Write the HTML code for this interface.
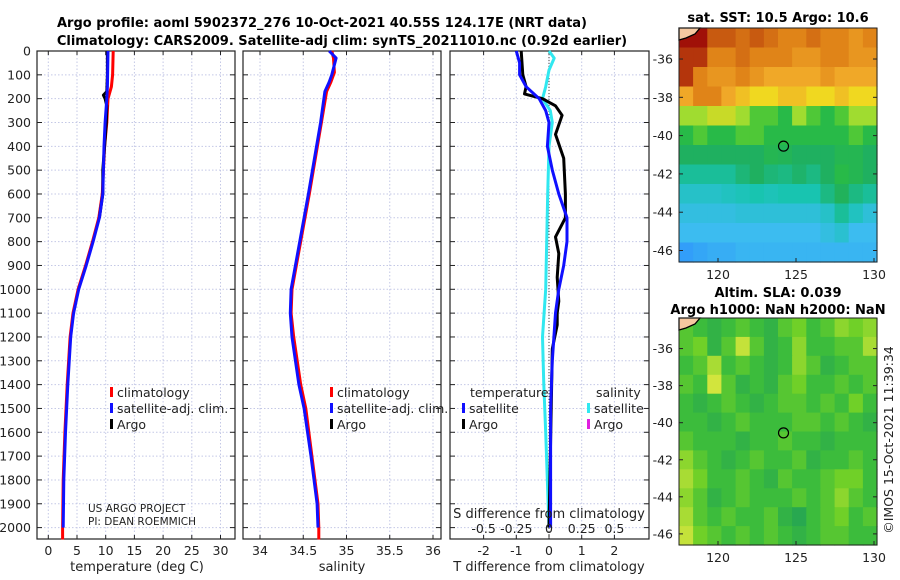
<!DOCTYPE html>
<html><head><meta charset="utf-8"><style>
body{margin:0;background:#fff;}
svg{display:block;font-family:"DejaVu Sans","Liberation Sans",sans-serif;}
.t{font-size:12.5px;fill:#222;}
.b{font-weight:bold;font-size:13px;fill:#000;}
</style></head><body>
<svg id="c" width="900" height="580" viewBox="0 0 900 580"></svg>
<script>
// ---- data ----
const depthTicks=[0,100,200,300,400,500,600,700,800,900,1000,1100,1200,1300,1400,1500,1600,1700,1800,1900,2000];
const tTicks=[0,5,10,15,20,25,30];
const sTicks=[34,34.5,35,35.5,36];
const dTTicks=[-2,-1,0,1,2];
const dSTicks=[-0.5,-0.25,0,0.25,0.5];
const tClimDepth=[0,100,150,200,300,400,500,600,700,800,900,1000,1100,1200,1400,1600,1800,2000,2050];
const tClimVal=[11.3,11.2,11.0,10.4,10.2,9.8,9.6,9.4,8.8,7.7,6.5,5.2,4.3,3.8,3.3,2.9,2.6,2.5,2.5];
const tSatDepth=[0,150,200,300,400,500,600,700,800,900,1000,1100,1200,1400,1600,1800,2000];
const tSatVal=[10.4,10.3,10.2,9.9,9.7,9.6,9.5,8.9,7.8,6.6,5.3,4.4,3.9,3.4,3.0,2.7,2.6];
const tArgoDepth=[0,100,170,185,200,230,300,400,500,600,700];
const tArgoVal=[10.3,10.3,10.2,9.6,9.9,10.2,10.1,9.8,9.5,9.5,8.9];
const sClimDepth=[0,30,90,130,170,300,600,1000,1100,1200,1400,1500,1700,1900,2000,2050];
const sClimVal=[34.83,34.85,34.86,34.82,34.77,34.71,34.57,34.37,34.36,34.39,34.47,34.53,34.60,34.67,34.68,34.68];
const sSatDepth=[0,30,100,130,170,300,600,1000,1100,1200,1400,1500,1700,1900,2000];
const sSatVal=[34.80,34.88,34.83,34.80,34.75,34.70,34.56,34.36,34.35,34.37,34.45,34.51,34.59,34.66,34.67];
const dTSatDepth=[0,50,100,150,200,250,300,400,500,600,700,800,900,1000,1100,1300,1500,2000];
const dTSatVal=[-1.0,-0.9,-0.9,-0.7,-0.3,-0.1,0.0,-0.05,0.1,0.3,0.55,0.55,0.45,0.3,0.2,0.1,0.05,0.05];
const dTArgoDepth=[0,100,150,180,200,230,270,350,450,600,700,780,850,950,1050,1100,1150,1250,2000];
const dTArgoVal=[-0.85,-0.8,-0.7,-0.75,-0.2,0.2,0.4,0.2,0.45,0.5,0.5,0.2,0.3,0.25,0.3,0.25,0.25,0.1,0.0];
const dSSatDepth=[0,30,80,150,200,250,300,400,600,1000,1200,1400,1600,2000];
const dSSatVal=[0,0.04,0,-0.025,-0.05,0.01,0.025,0,-0.01,-0.025,-0.05,-0.04,-0.025,0];
const sstGrid=[
[17,17,16,16,15.5,16,15.5,15,15,15.5,15,15,14.5,15],
[16.5,16.5,15,15,15.5,15,15,15,14.5,14.5,15,15,14.5,14.5],
[16.5,15,14.5,14.5,15,14.5,14,14,14,14,14.5,14,14,14],
[14,15,15,14,13.5,13,13,13.5,13.5,13,13,13.5,13,13],
[12,12,12.5,12.5,12,11.5,11.5,11,12,11.5,11,11.5,12,12],
[11,11.5,11,11,11.5,11.5,11,11,11,11,11,11,11.5,11],
[10.5,10.5,10.5,10.5,10.5,10.5,10.8,10.7,10.5,10.5,10.5,10.8,10.8,10.5],
[10,10,10,10,10.3,10.5,10.3,10.2,10.4,10.2,10.5,11,10.8,10.5],
[9.5,9.5,9.5,9.6,9.7,9.8,9.7,9.8,9.8,9.8,10.2,10.6,10.2,10],
[9.2,9.2,9.2,9.2,9.3,9.3,9.3,9.3,9.3,9.3,9.5,10,9.6,9.3],
[9,9,9,9,9,9,9,9,9,9,9.2,9.4,9,9],
[8.6,8.7,8.8,8.8,8.9,8.9,8.9,8.9,8.9,8.9,8.9,8.9,8.9,8.9]];
const slaGrid=[
[0.5,0.4,0.3,0.4,0.5,0.4,0.3,0.5,0.6,0.4,0.5,0.7,0.6,0.7],
[0.5,0.6,0.3,0.5,0.9,0.5,0.3,0.4,0.7,0.4,0.4,0.5,0.5,0.8],
[0.4,0.5,0.8,0.4,0.5,0.4,0.3,0.4,0.7,0.5,0.3,0.4,0.5,0.5],
[0.5,0.4,0.95,0.5,0.3,0.4,0.3,0.5,0.6,0.4,0.4,0.5,0.4,0.5],
[0.4,0.3,0.4,0.5,0.4,0.3,0.4,0.5,0.5,0.4,0.5,0.4,0.6,0.4],
[0.4,0.4,0.3,0.4,0.5,0.4,0.4,0.4,0.5,0.5,0.4,0.5,0.4,0.3],
[0.5,0.4,0.4,0.4,0.3,0.4,0.4,0.5,0.4,0.4,0.3,0.4,0.4,0.4],
[0.7,0.5,0.4,0.3,0.4,0.5,0.4,0.4,0.5,0.3,0.4,0.4,0.5,0.4],
[0.8,0.6,0.4,0.4,0.5,0.4,0.3,0.5,0.4,0.4,0.5,0.6,0.6,0.4],
[0.7,0.5,0.3,0.4,0.5,0.4,0.4,0.4,0.5,0.4,0.5,0.7,0.5,0.4],
[0.8,0.5,0.4,0.5,0.4,0.4,0.5,0.3,0.2,0.4,0.5,0.6,0.4,0.5],
[0.9,0.6,0.5,0.4,0.5,0.4,0.5,0.4,0.3,0.4,0.5,0.5,0.4,0.4]];
const lonTicks=[120,125,130];
const latTicks=[-36,-38,-40,-42,-44,-46];
const floatLon=124.2, floatLat=-40.55;

// ---- helpers ----
const svg=document.getElementById('c');
const NS='http://www.w3.org/2000/svg';
function mk(tag,attrs,parent){const e=document.createElementNS(NS,tag);for(const k in attrs)e.setAttribute(k,attrs[k]);(parent||svg).appendChild(e);return e;}
function txt(x,y,s,cls,anchor,parent){const e=mk('text',{x:x,y:y,class:cls||'t','text-anchor':anchor||'middle'},parent);e.textContent=s;return e;}
const Y0=51,YPX=23.83/100; const yD=d=>Y0+d*YPX;
const PB=539;
const panels=[
 {x0:37,x1:235,sc:v=>48.3+v*5.74,ticks:tTicks,name:'temperature-panel'},
 {x0:243,x1:441,sc:v=>260+(v-34)*86.5,ticks:sTicks,name:'salinity-panel'},
 {x0:450,x1:649,sc:v=>549+v*32.7,ticks:dTTicks,name:'difference-panel'}];
const sS=v=>549+v*4*32.7;

panels.forEach((p,i)=>{
 const g=mk('g',{});
 
 
 p.ticks.forEach(t=>{const x=p.sc(t);mk('line',{x1:x,x2:x,y1:Y0,y2:PB,stroke:'#c4c8e6','stroke-dasharray':'1.5,2','stroke-width':1},g);
  mk('line',{x1:x,x2:x,y1:PB,y2:PB-4,stroke:'#222'},g);mk('line',{x1:x,x2:x,y1:Y0,y2:Y0+4,stroke:'#222'},g);
  txt(x,555,String(t),'t','middle',g);});
 depthTicks.forEach(d=>{const y=yD(d);mk('line',{x1:p.x0,x2:p.x1,y1:y,y2:y,stroke:'#c4c8e6','stroke-dasharray':'1.5,2','stroke-width':1},g);
  mk('line',{x1:p.x0,x2:p.x0+5,y1:y,y2:y,stroke:'#222'},g);mk('line',{x1:p.x1-5,x2:p.x1,y1:y,y2:y,stroke:'#222'},g);
  if(i==0)txt(31,y+4.5,String(d),'t','end',g);});
 mk('rect',{x:p.x0,y:Y0,width:p.x1-p.x0,height:PB-Y0,fill:'none',stroke:'#222','stroke-width':1.2},g);
});
function line(depths,vals,sc,color,w,name){
 const pts=depths.map((d,k)=>sc(vals[k]).toFixed(1)+','+yD(d).toFixed(1)).join(' ');
 const e=mk('polyline',{points:pts,fill:'none',stroke:color,'stroke-width':w,'stroke-linejoin':'round'});
 
 
}
line(tClimDepth,tClimVal,panels[0].sc,'#ff0000',3,'temp-climatology-line');
line(tArgoDepth,tArgoVal,panels[0].sc,'#000',3,'temp-argo-line');
line(tSatDepth,tSatVal,panels[0].sc,'#1010ff',3,'temp-satellite-line');
line(sClimDepth,sClimVal,panels[1].sc,'#ff0000',3,'sal-climatology-line');
line(sSatDepth,sSatVal,panels[1].sc,'#1010ff',3,'sal-satellite-line');
mk('line',{x1:549,x2:549,y1:Y0,y2:PB,stroke:'#444','stroke-dasharray':'1,2'});
line(dSSatDepth,dSSatVal,sS,'#30e8f0',3,'sal-diff-satellite-line');
line(dTArgoDepth,dTArgoVal,panels[2].sc,'#000',3,'temp-diff-argo-line');
line(dTSatDepth,dTSatVal,panels[2].sc,'#1010ff',3,'temp-diff-satellite-line');
dSTicks.forEach(t=>{txt(sS(t),533,String(t),'t','middle');});

// legends
function leg(x,y,color,label,name){const g=mk('g',{});
 mk('rect',{x:x,y:y-10,width:3,height:10,fill:color},g);txt(x+7,y,label,'t','start',g);}
leg(110,397,'#ff0000','climatology','legend-climatology');
leg(110,413,'#1010ff','satellite-adj. clim.','legend-satellite');
leg(110,429,'#000','Argo','legend-argo');
leg(330,397,'#ff0000','climatology','legend-sal-climatology');
leg(330,413,'#1010ff','satellite-adj. clim.','legend-sal-satellite');
leg(330,429,'#000','Argo','legend-sal-argo');
txt(470,397,'temperature','t','start');
txt(596,397,'salinity','t','start');
leg(462,413,'#1010ff','satellite','legend-diff-temp-satellite');
leg(462,429,'#000','Argo','legend-diff-temp-argo');
leg(587,413,'#30e8f0','satellite','legend-diff-sal-satellite');
leg(587,429,'#e020e0','Argo','legend-diff-sal-argo');
txt(88,512,'US ARGO PROJECT','t','start').setAttribute('style','font-size:10.5px');
txt(88,525,'PI: DEAN ROEMMICH','t','start').setAttribute('style','font-size:10.5px');
txt(549,518,'S difference from climatology','t','middle').setAttribute('style','font-size:13px');
txt(137,571,'temperature (deg C)','t','middle').setAttribute('style','font-size:13px');
txt(342,571,'salinity','t','middle').setAttribute('style','font-size:13px');
txt(549,571,'T difference from climatology','t','middle').setAttribute('style','font-size:13px');
txt(322,27,'Argo profile: aoml 5902372_276 10-Oct-2021 40.55S 124.17E (NRT data)','b','middle');
txt(342,45,'Climatology: CARS2009. Satellite-adj clim: synTS_20211010.nc (0.92d earlier)','b','middle');

// colormaps
function interp(stops,v){if(v<=stops[0][0])return stops[0][1];for(let k=1;k<stops.length;k++){if(v<=stops[k][0]){const a=stops[k-1],b=stops[k],f=(v-a[0])/(b[0]-a[0]);
 const c1=a[1],c2=b[1];const ch=j=>Math.round(parseInt(c1.substr(1+2*j,2),16)*(1-f)+parseInt(c2.substr(1+2*j,2),16)*f);return `rgb(${ch(0)},${ch(1)},${ch(2)})`;}}return stops[stops.length-1][1];}
const sstStops=[[8.3,'#2a88ff'],[9,'#3cbcf0'],[9.8,'#18c4b0'],[10.5,'#1fb060'],[11.3,'#2ec03a'],[12,'#a0dc30'],[13,'#f0d820'],[14,'#f0a828'],[15,'#e08418'],[16,'#c85a10'],[17,'#a01008']];
const slaStops=[[0.2,'#28a850'],[0.4,'#3cbc3c'],[0.6,'#70d028'],[1,'#e0e840']];
function map(box,grid,stops,name,latTop,latBot){
 const g=mk('g',{});
 const lx=lon=>679+(lon-117.5)*15.6;
 const ly=lat=>box.y0+(latTop-lat)*(box.y1-box.y0)/(latTop-latBot);
 const rows=grid.length,cols=grid[0].length,cw=(877-679)/cols,rh=(box.y1-box.y0)/rows;
 grid.forEach((r,ri)=>r.forEach((v,ci)=>{mk('rect',{x:(679+ci*cw).toFixed(1),y:(box.y0+ri*rh).toFixed(1),width:(cw+0.6).toFixed(1),height:(rh+0.6).toFixed(1),fill:interp(stops,v)},g);}));
 mk('path',{d:`M679,${box.y0} L700,${box.y0} L695,${box.y0+6} L686,${box.y0+10} L679,${box.y0+12} Z`,fill:'#f5c8a0',stroke:'#000','stroke-width':1.3},g);
 mk('circle',{cx:lx(floatLon),cy:ly(floatLat),r:5,fill:'none',stroke:'#000','stroke-width':1.2},g);
 mk('rect',{x:679,y:box.y0,width:198,height:box.y1-box.y0,fill:'none',stroke:'#222'},g);
 lonTicks.forEach(l=>{const x=lx(l);mk('line',{x1:x,x2:x,y1:box.y1,y2:box.y1-4,stroke:'#222'},g);txt(x,box.y1+17,String(l),'t','middle',g);});
 latTicks.forEach(l=>{const y=ly(l);mk('line',{x1:679,x2:683,y1:y,y2:y,stroke:'#222'},g);mk('line',{x1:873,x2:877,y1:y,y2:y,stroke:'#222'},g);txt(673,y+4.5,String(l),'t','end',g);});
}
map({y0:28,y1:262},sstGrid,sstStops,'sst-map',-34.38,-46.6);
map({y0:318,y1:545},slaGrid,slaStops,'sla-map',-34.35,-46.6);
txt(778,22,'sat. SST: 10.5 Argo: 10.6','b','middle');
txt(778,297,'Altim. SLA: 0.039','b','middle');
txt(778,314,'Argo h1000: NaN h2000: NaN','b','middle');
const cr=txt(0,0,'©IMOS 15-Oct-2021 11:39:34','t','middle');
cr.setAttribute('transform','translate(893,440) rotate(-90)');
</script>
</body></html>
